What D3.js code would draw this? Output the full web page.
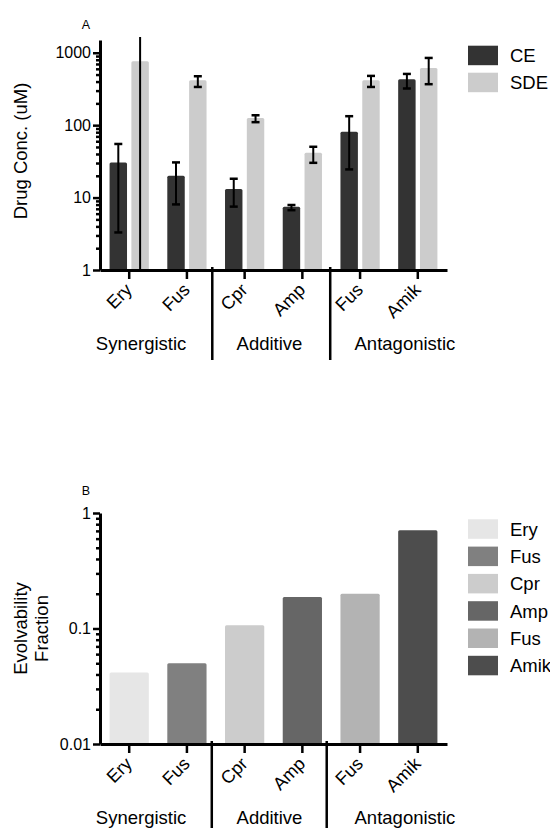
<!DOCTYPE html>
<html>
<head>
<meta charset="utf-8">
<script src="https://cdn.jsdelivr.net/npm/d3@7"></script>
<style>
  body { margin: 0; background: #fff; }
  svg text { font-family: "Liberation Sans", Arial, sans-serif; fill: #000; }
</style>
</head>
<body>
<svg id="chart" width="550" height="828"></svg>
<script>
// data
const drugs = ["Ery", "Fus", "Cpr", "Amp", "Fus", "Amik"];
const groups = ["Synergistic", "Additive", "Antagonistic"];
const series = ["CE", "SDE"];

const ceMean = [30.6, 20, 13.1, 7.5, 81, 431];
const ceLow  = [3.3, 8.05, 7.5, 6.7, 24.5, 321];
const ceHigh = [55, 30.6, 18.2, 7.9, 133, 510];

const sdeMean = [764, 417, 126, 41.5, 417, 618];
const sdeLow  = [0.5, 337, 110, 30.2, 337, 368];   // Ery error bar runs off the scale
const sdeHigh = [5000, 474, 137, 50.3, 479, 848];

const evolFraction = [0.0416, 0.050, 0.1065, 0.187, 0.2, 0.708];
const evolColors = ["#e6e6e6", "#808080", "#cccccc", "#666666", "#b3b3b3", "#4d4d4d"];
const seriesColors = ["#333333", "#cccccc"];

const ticksA = [1, 10, 100, 1000];
const ticksB = [0.01, 0.1, 1];

const svg = d3.select("#chart");

const x0 = d3.scaleBand()
  .domain(d3.range(drugs.length))
  .range([100, 447])
  .paddingInner(0.32)
  .paddingOuter(0.166);

const x1 = d3.scaleBand()
  .domain(series)
  .range([0, x0.bandwidth()])
  .paddingInner(0.2);

function minorTicks(lo, hi) {
  const out = [];
  for (let d = lo; d < hi; d *= 10) {
    for (let k = 2; k <= 9; k++) out.push(d * k);
  }
  return out;
}

// shared axis / annotation drawing
function drawFrame(g, y, majors, lo, hi, base, sepShift, sepBottom) {
  const ya = g.append("g")
    .attr("transform", "translate(100,0)")
    .call(d3.axisLeft(y).tickValues(majors).tickSize(7).tickSizeOuter(0).tickPadding(2)
      .tickFormat(d => String(d)));
  ya.select(".domain").attr("stroke-width", 3);
  ya.selectAll(".tick line").attr("stroke-width", 2.5);
  ya.selectAll(".tick text").style("font-size", "16px");

  const ym = g.append("g")
    .attr("transform", "translate(100,0)")
    .call(d3.axisLeft(y).tickValues(minorTicks(lo, hi)).tickSize(4).tickFormat(""));
  ym.select(".domain").remove();
  ym.selectAll(".tick line").attr("stroke-width", 2.5);

  const xa = g.append("g")
    .attr("transform", `translate(0,${base})`)
    .call(d3.axisBottom(x0).tickSize(9).tickSizeOuter(0).tickFormat(""));
  xa.select(".domain").attr("stroke-width", 3);
  xa.selectAll(".tick line").attr("stroke-width", 2.5);

  g.selectAll(".drug")
    .data(drugs)
    .enter()
    .append("text")
    .attr("class", "drug")
    .attr("transform", (d, i) =>
      `translate(${x0(i) + x0.bandwidth() / 2 + 4},${base + 21}) rotate(-45)`)
    .attr("text-anchor", "end")
    .style("font-size", "18px")
    .text(d => d);

  const step = x0.step();
  const groupShift = [-17, -4, 16];
  g.selectAll(".group")
    .data(groups)
    .enter()
    .append("text")
    .attr("class", "group")
    .attr("x", (d, i) => (x0(i * 2) + x0(i * 2 + 1) + x0.bandwidth()) / 2 + groupShift[i])
    .attr("y", base + 80)
    .attr("text-anchor", "middle")
    .style("font-size", "18.5px")
    .text(d => d);

  // separators between groups
  [2, 4].forEach((k, j) => {
    const sx = x0(k) - step * x0.paddingInner() / 2 + sepShift[j];
    g.append("line")
      .attr("x1", sx).attr("x2", sx)
      .attr("y1", base - 3).attr("y2", sepBottom)
      .attr("stroke", "#000")
      .attr("stroke-width", 2.5);
  });
}

// ---------- Panel A ----------
const yA = d3.scaleLog().domain([1, 1500]).range([270, 40]);
const gA = svg.append("g");

const rowsA = drugs.map((d, i) => ({
  i,
  vals: [
    { s: "CE", v: ceMean[i], lo: ceLow[i], hi: ceHigh[i] },
    { s: "SDE", v: sdeMean[i], lo: sdeLow[i], hi: sdeHigh[i] }
  ]
}));

const barsA = gA.selectAll(".pair")
  .data(rowsA)
  .enter()
  .append("g")
  .attr("transform", d => `translate(${x0(d.i)},0)`);

barsA.selectAll("rect")
  .data(d => d.vals)
  .enter()
  .append("rect")
  .attr("x", d => x1(d.s))
  .attr("y", d => yA(d.v))
  .attr("width", x1.bandwidth())
  .attr("height", d => yA(1) - yA(d.v))
  .attr("rx", 1.5)
  .attr("fill", (d, k) => seriesColors[k]);

svg.append("clipPath").attr("id", "clipA")
  .append("rect").attr("x", 90).attr("y", 37).attr("width", 370).attr("height", 233);

const errG = gA.append("g").attr("clip-path", "url(#clipA)");
rowsA.forEach(r => {
  r.vals.forEach(d => {
    const cx = x0(r.i) + x1(d.s) + x1.bandwidth() / 2;
    errG.append("line")
      .attr("x1", cx).attr("x2", cx)
      .attr("y1", yA(d.hi)).attr("y2", yA(d.lo))
      .attr("stroke", "#000").attr("stroke-width", 2);
    [d.hi, d.lo].forEach(v => {
      errG.append("line")
        .attr("x1", cx - 4).attr("x2", cx + 4)
        .attr("y1", yA(v)).attr("y2", yA(v))
        .attr("stroke", "#000").attr("stroke-width", 2.5);
    });
  });
});

drawFrame(gA, yA, ticksA, 1, 1000, 270, [-3.5, -1], 360);

gA.append("text")
  .attr("transform", `translate(26.5,${(yA(1) + yA(1500)) / 2 - 4}) rotate(-90)`)
  .attr("text-anchor", "middle")
  .style("font-size", "18.5px")
  .text("Drug Conc. (uM)");

gA.append("text")
  .attr("x", 86).attr("y", 29)
  .attr("text-anchor", "middle")
  .style("font-size", "12.5px")
  .text("A");

const legA = gA.selectAll(".legA")
  .data(series)
  .enter()
  .append("g")
  .attr("transform", (d, i) => `translate(468,${45.7 + i * 27})`);
legA.append("rect").attr("width", 30).attr("height", 19.5).attr("fill", (d, i) => seriesColors[i]);
legA.append("text").attr("x", 42).attr("y", 16.5).style("font-size", "18.5px").text(d => d);

// ---------- Panel B ----------
const yB = d3.scaleLog().domain([0.01, 1]).range([744, 513]);
const gB = svg.append("g");

gB.selectAll(".barB")
  .data(evolFraction)
  .enter()
  .append("rect")
  .attr("x", (d, i) => x0(i))
  .attr("y", d => yB(d))
  .attr("width", x0.bandwidth())
  .attr("height", d => yB(0.01) - yB(d))
  .attr("rx", 1.5)
  .attr("fill", (d, i) => evolColors[i]);

drawFrame(gB, yB, ticksB, 0.01, 1, 744, [-4, -4.5], 830);

gB.append("text")
  .attr("transform", `translate(26.5,${(yB(0.01) + yB(1)) / 2}) rotate(-90)`)
  .attr("text-anchor", "middle")
  .style("font-size", "18.5px")
  .text("Evolvability");
gB.append("text")
  .attr("transform", `translate(48.3,${(yB(0.01) + yB(1)) / 2}) rotate(-90)`)
  .attr("text-anchor", "middle")
  .style("font-size", "18.5px")
  .text("Fraction");

gB.append("text")
  .attr("x", 86).attr("y", 495)
  .attr("text-anchor", "middle")
  .style("font-size", "12.5px")
  .text("B");

const legB = gB.selectAll(".legB")
  .data(drugs)
  .enter()
  .append("g")
  .attr("transform", (d, i) => `translate(468,${519.3 + i * 27.3})`);
legB.append("rect").attr("width", 30).attr("height", 19.5).attr("fill", (d, i) => evolColors[i]);
legB.append("text").attr("x", 42).attr("y", 16.5).style("font-size", "18.5px").text(d => d);
</script>
</body>
</html>
